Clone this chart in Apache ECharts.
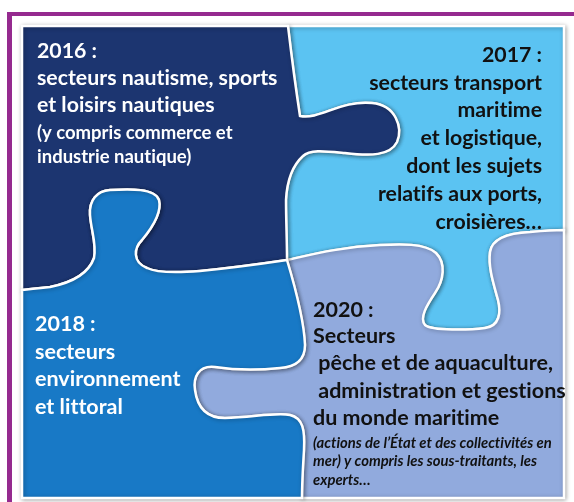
<!DOCTYPE html>
<html>
<head>
<meta charset="utf-8">
<script src="https://cdn.jsdelivr.net/npm/echarts@6/dist/echarts.min.js"></script>
<style>
  html, body { margin: 0; padding: 0; background: #fff; }
  #main { width: 574px; height: 502px; }
</style>
</head>
<body>
<div id="main"></div>
<script>
// textes des pieces du puzzle
const titles = ['2016 :', '2017 :', '2018 :', '2020 :']
const text2016 = ['secteurs nautisme, sports', 'et loisirs nautiques']
const note2016 = ['(y compris commerce et', 'industrie nautique)']
const text2017 = ['secteurs transport', 'maritime', 'et logistique,', 'dont les sujets', 'relatifs aux ports,', 'croisières…']
const text2018 = ['secteurs', 'environnement', 'et littoral']
const text2020 = ['Secteurs', ' pêche et de aquaculture,', ' administration et gestions', 'du monde maritime']
const note2020 = ['(actions de l’État et des collectivités en', 'mer) y compris les sous-traitants, les', 'experts…']
const pieceColors = ['#1c3570', '#5bc3f2', '#1879c6', '#91aadd']

// bords communs entre les pieces (courbes de bezier)
const edgeA = { // bleu nuit | bleu clair
  start: [288, 26],
  segs: [
    [292, 60, 296, 90, 300, 116],
    [320, 120, 340, 100, 372, 103],
    [396, 105, 403, 128, 397, 142],
    [390, 156, 370, 156, 345, 153],
    [325, 151, 310, 149, 303, 156],
    [292, 166, 287, 180, 286, 200],
    [286, 220, 287, 240, 287, 260]
  ]
}
const edgeB = { // bleu nuit | bleu
  start: [287, 260],
  segs: [
    [260, 264, 230, 268, 200, 271],
    [175, 273, 155, 272, 147, 268],
    [132, 262, 134, 248, 142, 240],
    [152, 228, 162, 212, 159, 200],
    [155, 188, 130, 189, 110, 190],
    [97, 191, 89, 200, 90, 215],
    [91, 230, 97, 245, 94, 258],
    [88, 275, 70, 283, 50, 287],
    [40, 288, 30, 289, 22, 290]
  ]
}
const edgeC = { // bleu clair | lavande
  start: [287, 260],
  segs: [
    [310, 255, 340, 247, 380, 245],
    [400, 244, 425, 243, 436, 253],
    [446, 263, 444, 280, 435, 293],
    [427, 305, 419, 318, 425, 325],
    [432, 331, 470, 330, 485, 328],
    [500, 326, 501, 312, 498, 300],
    [494, 285, 488, 268, 490, 252],
    [492, 238, 510, 233, 530, 232],
    [541, 231, 552, 230, 564, 230]
  ]
}
const edgeD = { // bleu | lavande
  start: [287, 260],
  segs: [
    [296, 290, 304, 320, 305, 345],
    [305, 360, 295, 367, 280, 368],
    [260, 370, 235, 370, 215, 367],
    [198, 365, 193, 378, 195, 390],
    [197, 405, 205, 418, 225, 418],
    [250, 418, 275, 412, 290, 415],
    [303, 418, 305, 430, 304, 450],
    [303, 466, 302, 482, 302, 498]
  ]
}

function fwd(e) {
  return e.segs.map(s => 'C' + s.join(',')).join(' ')
}
function rev(e) {
  const pts = [e.start].concat(e.segs.map(s => [s[4], s[5]]))
  const out = []
  for (let i = e.segs.length - 1; i >= 0; i--) {
    const s = e.segs[i]
    const p = pts[i]
    out.push('C' + [s[2], s[3], s[0], s[1], p[0], p[1]].join(','))
  }
  return out.join(' ')
}

const piecePaths = [
  'M22,26 L288,26 ' + fwd(edgeA) + ' ' + fwd(edgeB) + ' Z',
  'M288,26 L564,26 L564,230 ' + rev(edgeC) + ' ' + rev(edgeA) + ' Z',
  'M22,290 ' + rev(edgeB) + ' ' + fwd(edgeD) + ' L22,498 Z',
  'M287,260 ' + fwd(edgeC) + ' L564,498 L302,498 ' + rev(edgeD) + ' Z'
]
const drawOrder = [1, 3, 0, 2]

const FONT = 'Lato, "Open Sans", sans-serif'

// Lato fait une ligature "ti" : on la casse avec un anti-liant invisible
function noLig(t) {
  return t.replace(/t(?=[it])/g, 't\u200C')
}

function textLines(lines, x, y0, step, color, size, align, italic) {
  return lines.map((t, i) => ({
    type: 'text',
    x: x,
    y: y0 + i * step,
    z: 100,
    style: {
      text: noLig(t),
      fill: color,
      font: (italic ? 'italic ' : '') + 'bold ' + size + 'px ' + FONT,
      textAlign: align,
      align: align,
      textVerticalAlign: 'middle',
      verticalAlign: 'middle'
    }
  }))
}

const frame = [
  { type: 'rect', z: 100, shape: { x: 7, y: 12, width: 567, height: 4 }, style: { fill: '#952a8f' } },
  { type: 'rect', z: 100, shape: { x: 7, y: 12, width: 5, height: 490 }, style: { fill: '#952a8f' } }
]

const white = '#ffffff'
const dark = '#111111'

const labels = [].concat(
  textLines([titles[0]].concat(text2016), 37, 51, 27.2, white, 21.3, 'left'),
  textLines(note2016, 37, 133, 24, white, 18.5, 'left'),
  textLines([titles[1]].concat(text2017), 542, 55, 27.8, dark, 21.3, 'right'),
  textLines([titles[2]].concat(text2018), 35, 324, 27.7, white, 21.5, 'left'),
  textLines([titles[3]], 313, 310, 26, dark, 21.5, 'left'),
  textLines(text2020, 313, 336, 27.5, dark, 21.5, 'left'),
  textLines(note2020, 313, 443, 18.5, dark, 14.8, 'left', true)
)

const chart = echarts.init(document.getElementById('main'))
chart.setOption({
  backgroundColor: '#ffffff',
  animation: false,
  series: [{
    type: 'custom',
    coordinateSystem: 'none',
    silent: true,
    data: drawOrder,
    renderItem: function (params, api) {
      const i = api.value(0)
      return {
        type: 'path',
        shape: { pathData: piecePaths[i] },
        style: {
          fill: pieceColors[i],
          stroke: '#ffffff',
          lineWidth: 2.5,
          shadowBlur: 4,
          shadowOffsetX: 1,
          shadowOffsetY: 1,
          shadowColor: 'rgba(0,0,0,0.3)'
        }
      }
    }
  }],
  graphic: { elements: frame.concat(labels) }
})
</script>
</body>
</html>
